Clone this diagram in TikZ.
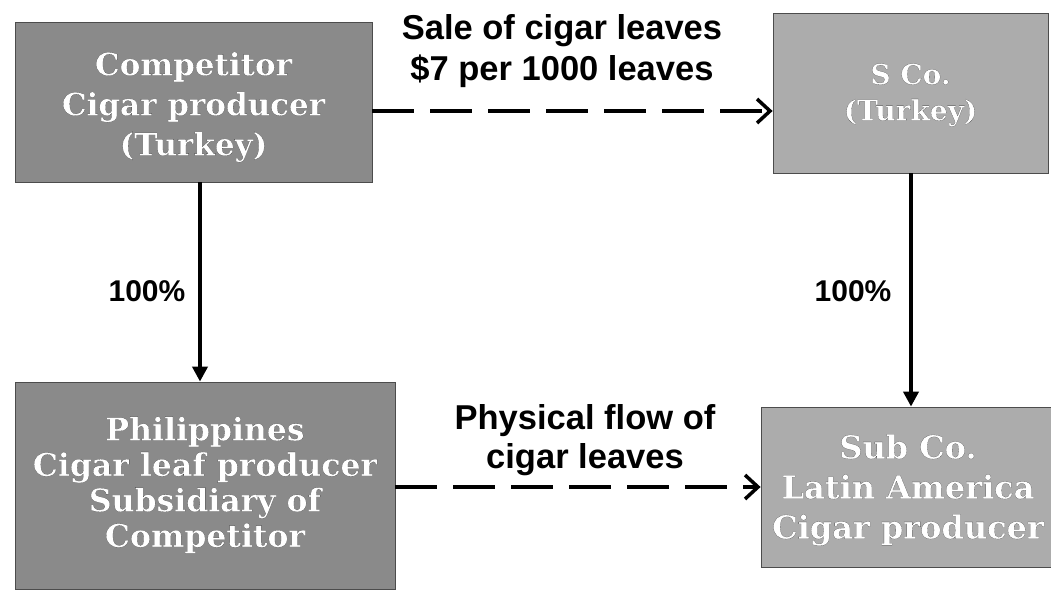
\documentclass[tikz,border=0pt]{standalone}
\usepackage{fontspec}
\usetikzlibrary{arrows.meta}
\newfontfamily\boxfont{DejaVu Serif}
\newfontfamily\labelfont{Liberation Sans}

\definecolor{darkfill}{RGB}{138,138,138}
\definecolor{lightfill}{RGB}{172,172,172}

% white lettering with a dark rim (PDF text render mode: fill, then stroke)
\newcommand\ink[1]{{\color{white}%
  \special{pdf:literal direct 2 Tr 0.1 G 0.06 w}#1\special{pdf:literal direct 0 Tr 0.4 w}}}

\tikzset{
  entity/.style={rectangle, draw=black!70, line width=0.8pt, inner sep=0pt},
  darkbox/.style={entity, fill=darkfill},
  lightbox/.style={entity, fill=lightfill},
  boxtext/.style={align=center, inner sep=0pt, text=white},
  flowlabel/.style={align=center, inner sep=0pt},
  owns/.style={line width=4pt, -{Triangle[length=15pt,width=15pt]}},
  flow/.style={line width=3.5pt, dash pattern=on 42pt off 16pt,
    -{Straight Barb[length=13pt,width=24pt,line width=3.5pt]}},
}

\begin{document}
\begin{tikzpicture}[x=1pt,y=-1pt]
\clip (0,0) rectangle (1051,589);
\fill[white] (0,0) rectangle (1051,589);

% entities
\node[darkbox, minimum width=357pt, minimum height=160pt] (comp) at (193.5,102) {};
\node[lightbox, minimum width=275pt, minimum height=160pt] (sco) at (910.5,93) {};
\node[darkbox, minimum width=380pt, minimum height=207pt] (phil) at (205,485.5) {};
\node[lightbox, minimum width=290pt, minimum height=160pt] (sub) at (906,487) {};

% entity names
\node[boxtext, font=\boxfont\bfseries\fontsize{31}{40}\selectfont] (compname) at (193.5,107)
  {\ink{Competitor}\\\ink{Cigar producer}\\\ink{(Turkey)}};
\node[boxtext, font=\boxfont\bfseries\fontsize{28}{36}\selectfont] (sconame) at (910.5,95)
  {\ink{S Co.}\\\ink{(Turkey)}};
\node[boxtext, font=\boxfont\bfseries\fontsize{31.5}{35.5}\selectfont] (philname) at (205,485)
  {\ink{Philippines}\\\ink{Cigar leaf producer}\\\ink{Subsidiary of}\\\ink{Competitor}};
\node[boxtext, font=\boxfont\bfseries\fontsize{32}{40}\selectfont] (subname) at (908,490)
  {\ink{Sub Co.}\\\ink{Latin America}\\\ink{Cigar producer}};

% ownership
\draw[owns] ([xshift=6.5pt]comp.south) -- ([xshift=-5pt]phil.north);
\draw[owns] ([xshift=0.5pt]sco.south) -- ([xshift=5pt]sub.north);
\node[flowlabel, font=\labelfont\bfseries\fontsize{30}{36}\selectfont] (ownleft) at (147,291) {100\%};
\node[flowlabel, font=\labelfont\bfseries\fontsize{30}{36}\selectfont] (ownright) at (853,291) {100\%};

% flows between the entities
\draw[flow] ([yshift=-9pt]comp.east) -- ([yshift=-18pt]sco.west);
\draw[flow] ([yshift=-1.5pt]phil.east) -- (sub.west);
\node[flowlabel, font=\labelfont\bfseries\fontsize{34.5}{41}\selectfont] (salelabel) at (562,51)
  {Sale of cigar leaves\\\$7 per 1000 leaves};
\node[flowlabel, font=\labelfont\bfseries\fontsize{34.5}{39}\selectfont] (physlabel) at (585,440)
  {Physical flow of\\cigar leaves};
\end{tikzpicture}
\end{document}
